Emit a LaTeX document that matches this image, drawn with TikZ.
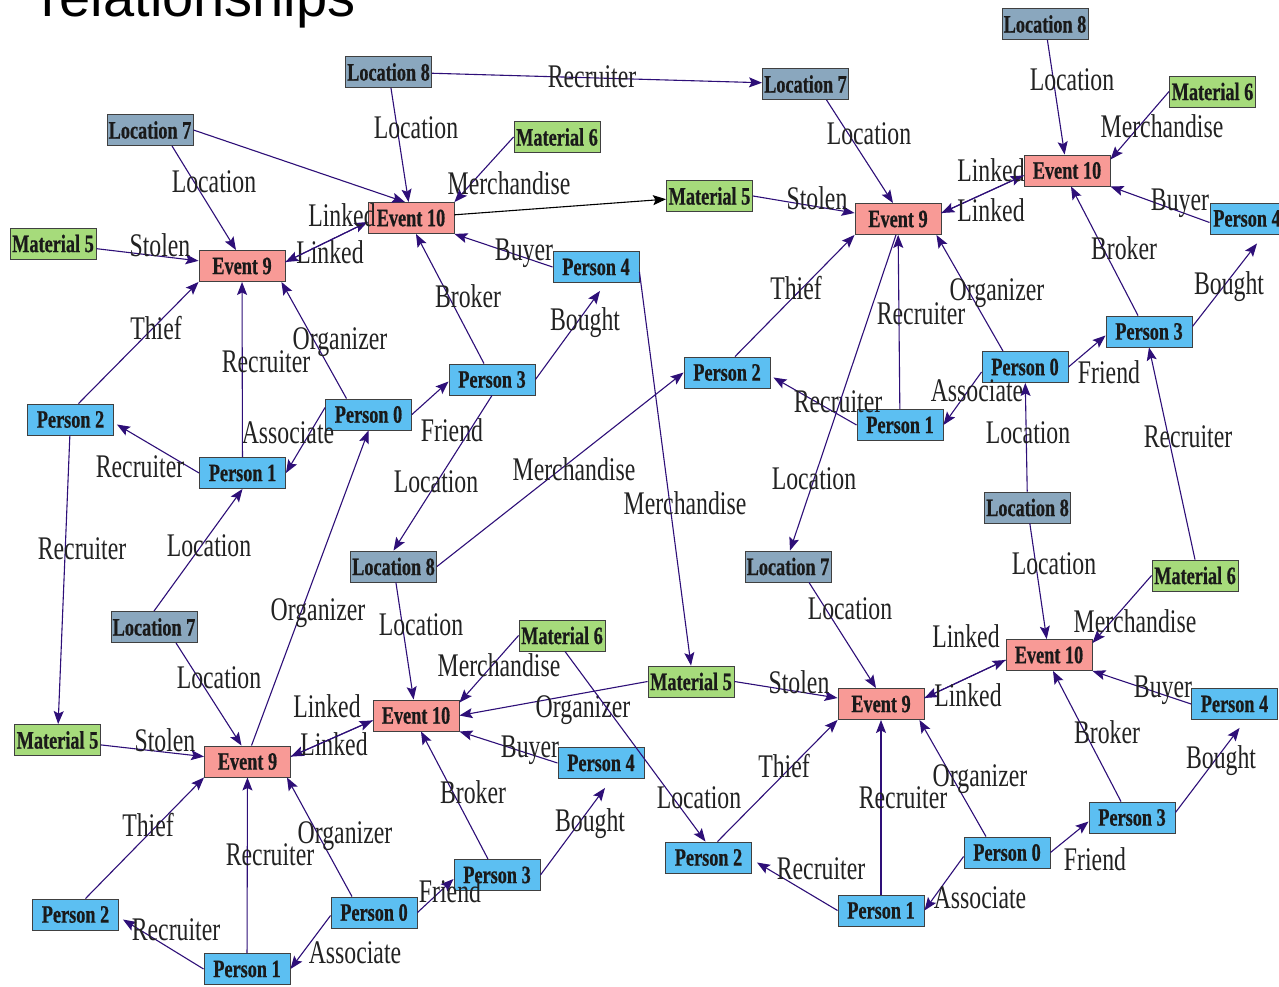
\documentclass[tikz,border=0pt]{standalone}
\usepackage{fontspec}
\usetikzlibrary{arrows.meta,calc}
\newfontfamily\nodefont{Liberation Serif}[FakeStretch=0.73,FakeBold=0.6]
\newfontfamily\lblfont{Liberation Serif}[FakeStretch=0.72]
\newfontfamily\titlefont{Liberation Sans}
\definecolor{evfill}{HTML}{F89A96}
\definecolor{locfill}{HTML}{8AA7BE}
\definecolor{matfill}{HTML}{A6DB7B}
\definecolor{perfill}{HTML}{5CBFF2}
\definecolor{boxline}{HTML}{404040}
\definecolor{edgecol}{HTML}{2E0F78}
\definecolor{inktext}{HTML}{222222}
\definecolor{boxtext}{HTML}{1A1A1A}
\tikzset{
  box/.style={draw=boxline, line width=0.9pt, minimum width=86pt, minimum height=31pt,
    inner sep=0pt, text=boxtext, font=\nodefont\bfseries\fontsize{25}{25}\selectfont},
  event/.style={box, fill=evfill},
  place/.style={box, fill=locfill},
  material/.style={box, fill=matfill},
  person/.style={box, fill=perfill},
  rel/.style={draw=edgecol, line width=1.1pt,
    -{Stealth[length=13pt,width=10pt,inset=2.5pt]}},
  relblack/.style={rel, draw=black},
  lbl/.style={inner sep=0pt, text height=22pt, text depth=0pt, text=inktext,
    font=\lblfont\fontsize{33}{33}\selectfont},
}
\begin{document}
\begin{tikzpicture}[x=1pt,y=-1pt]
\fill[white] (0,0) rectangle (1279,987);
\useasboundingbox (0,0) rectangle (1279,987);

\node[anchor=base west, inner sep=0pt, font=\titlefont\fontsize{56}{56}\selectfont] (title) at (41,17) {relationships};

% ---- nodes ----
\node[place]    (loc8a)  at (388.5,72)  {Location 8};
\node[place]    (loc7a)  at (150,130)   {Location 7};
\node[material] (mat5a)  at (53,243.5)  {Material 5};
\node[event]    (ev9a)   at (242,266)   {Event 9};
\node[event]    (ev10a)  at (411,218)   {Event 10};
\node[material] (mat6a)  at (557,137)   {Material 6};
\node[person]   (p4a)    at (596,267)   {Person 4};
\node[person]   (p3a)    at (492,379.5) {Person 3};
\node[person]   (p0a)    at (368.5,414.5) {Person 0};
\node[person]   (p2a)    at (70.5,419.5) {Person 2};
\node[person]   (p1a)    at (242.5,473) {Person 1};
\node[material] (mat5t)  at (709.5,196) {Material 5};
\node[place]    (loc7t)  at (805.5,84)  {Location 7};
\node[place]    (loc8t)  at (1045,24)   {Location 8};
\node[material] (mat6t)  at (1212.5,91.5) {Material 6};
\node[event]    (ev9t)   at (898,219)   {Event 9};
\node[event]    (ev10t)  at (1067,170.5) {Event 10};
\node[person, minimum width=74pt] (p4t) at (1247,218.5) {Person 4};
\node[person]   (p3t)    at (1149,331.5) {Person 3};
\node[person]   (p0t)    at (1025,367)  {Person 0};
\node[person]   (p1t)    at (900,425)   {Person 1};
\node[person]   (p2m)    at (727,372.5) {Person 2};
\node[place]    (loc7m)  at (788,566.5) {Location 7};
\node[place]    (loc8m)  at (393.5,566.5) {Location 8};
\node[place]    (loc8mr) at (1027.5,507.5) {Location 8};
\node[material] (mat6mr) at (1195,575.5) {Material 6};
\node[place]    (loc7bl) at (154,627)   {Location 7};
\node[material] (mat6bl) at (562,635.5) {Material 6};
\node[material] (mat5bm) at (691,681.5) {Material 5};
\node[material] (mat5bl) at (57.5,740)  {Material 5};
\node[event]    (ev9bl)  at (247.5,761.5) {Event 9};
\node[event]    (ev10bl) at (416,715.5) {Event 10};
\node[person]   (p4bl)   at (601,763)   {Person 4};
\node[person]   (p3bl)   at (497,875)   {Person 3};
\node[person]   (p0bl)   at (374,912.5) {Person 0};
\node[person]   (p2bl)   at (75.5,914.5) {Person 2};
\node[person]   (p1bl)   at (247,969)   {Person 1};
\node[event]    (ev9br)  at (881,704)   {Event 9};
\node[event]    (ev10br) at (1049,655)  {Event 10};
\node[person]   (p4br)   at (1234.5,704) {Person 4};
\node[person]   (p3br)   at (1132,817.5) {Person 3};
\node[person]   (p0br)   at (1007,852.5) {Person 0};
\node[person]   (p1br)   at (881,910.5) {Person 1};
\node[person]   (p2bm)   at (708.5,857.5) {Person 2};

% ---- upper left group ----
\draw[rel] (loc8a) -- (loc7t) node[lbl, at={(592,77)}] {Recruiter};
\draw[rel] (loc8a) -- (ev10a) node[lbl, at={(416,128)}] {Location};
\draw[rel] (loc7a.east) -- ($(ev10a.north)+(-6,0)$);
\draw[rel] ($(loc7a.south)+(22,0)$) -- ($(ev9a.north)+(-6,0)$) node[lbl, at={(214,182)}] {Location};
\draw[rel] (mat5a) -- (ev9a) node[lbl, at={(160,245)}] {Stolen};
\draw[rel] ($(ev10a.west)+(0,4)$) -- ($(ev9a.east)+(0,-4)$) node[lbl, at={(330,252)}] {Linked};
\draw[rel] ($(ev9a.east)+(0,-4)$) -- ($(ev10a.west)+(0,4)$) node[lbl, at={(342,215)}] {Linked};
\draw[rel] (mat6a.west) -- (ev10a.north east) node[lbl, at={(509,184)}] {Merchandise};
\draw[relblack] (ev10a) -- (mat5t);
\draw[rel] (p4a.west) -- (ev10a.south east) node[lbl, at={(524,249)}] {Buyer};
\draw[rel] ($(p3a.north)+(-8,0)$) -- ($(ev10a.south)+(5,0)$) node[lbl, at={(468,296)}] {Broker};
\draw[rel] (p3a.east) -- ($(p4a.south)+(4,8)$) node[lbl, at={(585,319)}] {Bought};
\draw[rel] ($(p0a.north)+(-22,0)$) -- ($(ev9a.south east)+(-4,0)$) node[lbl, at={(340,338)}] {Organizer};
\draw[rel] (p0a.east) -- ($(p3a.west)+(0,2)$) node[lbl, at={(452,430)}] {Friend};
\draw[rel] ($(p0a.west)+(0,-7)$) -- (p1a.east) node[lbl, at={(288,432)}] {Associate};
\draw[rel] (p1a) -- (ev9a) node[lbl, at={(266,361)}] {Recruiter};
\draw[rel] (p1a.west) -- ($(p2a.east)+(3,5)$) node[lbl, at={(140,466)}] {Recruiter};
\draw[rel] ($(p2a.north)+(8,0)$) -- (ev9a.south west) node[lbl, at={(156,328)}] {Thief};
\draw[rel] (p2a) -- (mat5bl) node[lbl, at={(82,548)}] {Recruiter};
\draw[rel] (loc7bl.north) -- (p1a.south) node[lbl, at={(209,545)}] {Location};
\draw[rel] (p3a.south) -- (loc8m.north) node[lbl, at={(436,481)}] {Location};
\draw[rel] (loc8m.east) -- (p2m.west) node[lbl, at={(574,469)}] {Merchandise};
\draw[rel] ($(p4a.east)+(0,5)$) -- (mat5bm.north) node[lbl, at={(685,503)}] {Merchandise};

% ---- upper right group ----
\draw[rel] ($(loc7t.south)+(21,0)$) -- ($(ev9t.north)+(-5,0)$) node[lbl, at={(869,134)}] {Location};
\draw[rel] (mat5t.east) -- ($(ev9t.west)+(0,-6)$) node[lbl, at={(817,198)}] {Stolen};
\draw[rel] ($(ev9t.east)+(0,-6)$) -- ($(ev10t.west)+(0,5)$) node[lbl, at={(991,171)}] {Linked};
\draw[rel] ($(ev10t.west)+(0,5)$) -- ($(ev9t.east)+(0,-6)$) node[lbl, at={(991,211)}] {Linked};
\draw[rel] (loc8t) -- (ev10t) node[lbl, at={(1072,80)}] {Location};
\draw[rel] (mat6t.west) -- ($(ev10t.north east)+(0,5)$) node[lbl, at={(1162,127)}] {Merchandise};
\draw[rel] ($(p4t.west)+(0,4)$) -- (ev10t.south east) node[lbl, at={(1180,200)}] {Buyer};
\draw[rel] ($(p3t.north)+(-11,0)$) -- ($(ev10t.south)+(4,0)$) node[lbl, at={(1124,248)}] {Broker};
\draw[rel] ($(p3t.east)+(0,-5)$) -- ($(p4t.south)+(10,9)$) node[lbl, at={(1229,283)}] {Bought};
\draw[rel] ($(p0t.north)+(-22,0)$) -- ($(ev9t.south east)+(-5,0)$) node[lbl, at={(997,289)}] {Organizer};
\draw[rel] (p0t.east) -- ($(p3t.west)+(0,4)$) node[lbl, at={(1109,372)}] {Friend};
\draw[rel] ($(p0t.west)+(0,5)$) -- (p1t.east) node[lbl, at={(977,390)}] {Associate};
\draw[rel] (p1t) -- (ev9t) node[lbl, at={(921,313)}] {Recruiter};
\draw[rel] (p1t.west) -- ($(p2m.east)+(3,5)$) node[lbl, at={(838,401)}] {Recruiter};
\draw[rel] ($(p2m.north)+(8,0)$) -- (ev9t.south west) node[lbl, at={(796,288)}] {Thief};
\draw[rel] ($(ev9t.south)+(-2,0)$) -- ($(loc7m.north)+(2,0)$) node[lbl, at={(814,478)}] {Location};
\draw[rel] (loc8mr) -- (p0t) node[lbl, at={(1028,432)}] {Location};
\draw[rel] (mat6mr.north) -- (p3t.south) node[lbl, at={(1188,436)}] {Recruiter};

% ---- lower left group ----
\draw[rel] (loc8m) -- (ev10bl) node[lbl, at={(421,624)}] {Location};
\draw[rel] ($(loc7bl.south)+(22,0)$) -- ($(ev9bl.north)+(-6,0)$) node[lbl, at={(219,677)}] {Location};
\draw[rel] (mat5bl) -- (ev9bl) node[lbl, at={(165,740)}] {Stolen};
\draw[rel] ($(ev10bl.west)+(0,5)$) -- ($(ev9bl.east)+(0,-5)$) node[lbl, at={(334,744)}] {Linked};
\draw[rel] ($(ev9bl.east)+(0,-5)$) -- ($(ev10bl.west)+(0,5)$) node[lbl, at={(327,706)}] {Linked};
\draw[rel] (mat6bl.west) -- ($(ev10bl.north east)+(0,3)$) node[lbl, at={(499,665)}] {Merchandise};
\draw[rel] (mat5bm.west) -- (ev10bl.east) node[lbl, at={(583,706)}] {Organizer};
\draw[rel] (p4bl.west) -- (ev10bl.south east) node[lbl, at={(530,746)}] {Buyer};
\draw[rel] ($(p3bl.north)+(-9,0)$) -- ($(ev10bl.south)+(5,0)$) node[lbl, at={(473,792)}] {Broker};
\draw[rel] (p3bl.east) -- ($(p4bl.south)+(4,9)$) node[lbl, at={(590,820)}] {Bought};
\draw[rel] ($(p0bl.north)+(-22,0)$) -- ($(ev9bl.south east)+(-4,0)$) node[lbl, at={(345,832)}] {Organizer};
\draw[rel] (p0bl.east) -- ($(p3bl.west)+(0,4)$) node[lbl, at={(450,891)}] {Friend};
\draw[rel] ($(p0bl.west)+(0,3)$) -- (p1bl.east) node[lbl, at={(355,952)}] {Associate};
\draw[rel] (p1bl) -- (ev9bl) node[lbl, at={(270,854)}] {Recruiter};
\draw[rel] (p1bl.west) -- ($(p2bl.east)+(4,5)$) node[lbl, at={(176,929)}] {Recruiter};
\draw[rel] ($(p2bl.north)+(10,0)$) -- (ev9bl.south west) node[lbl, at={(148,825)}] {Thief};
\draw[rel] ($(ev9bl.north)+(4,0)$) -- (p0a.south) node[lbl, at={(318,609)}] {Organizer};

% ---- lower right group ----
\draw[rel] ($(loc7m.south)+(21,0)$) -- ($(ev9br.north)+(-5,0)$) node[lbl, at={(850,608)}] {Location};
\draw[rel] (mat5bm.east) -- ($(ev9br.west)+(0,-6)$) node[lbl, at={(799,682)}] {Stolen};
\draw[rel] ($(ev9br.east)+(0,-6)$) -- ($(ev10br.west)+(0,5)$) node[lbl, at={(966,636)}] {Linked};
\draw[rel] ($(ev10br.west)+(0,5)$) -- ($(ev9br.east)+(0,-6)$) node[lbl, at={(968,695)}] {Linked};
\draw[rel] (loc8mr) -- (ev10br) node[lbl, at={(1054,563)}] {Location};
\draw[rel] (mat6mr.west) -- ($(ev10br.north east)+(0,4)$) node[lbl, at={(1135,621)}] {Merchandise};
\draw[rel] (p4br.west) -- (ev10br.south east) node[lbl, at={(1163,686)}] {Buyer};
\draw[rel] ($(p3br.north)+(-11,0)$) -- ($(ev10br.south)+(4,0)$) node[lbl, at={(1107,732)}] {Broker};
\draw[rel] ($(p3br.east)+(0,-5)$) -- ($(p4br.south)+(5,8)$) node[lbl, at={(1221,757)}] {Bought};
\draw[rel] ($(p0br.north)+(-21,0)$) -- ($(ev9br.south east)+(-5,0)$) node[lbl, at={(980,775)}] {Organizer};
\draw[rel] (p0br.east) -- ($(p3br.west)+(0,4)$) node[lbl, at={(1095,859)}] {Friend};
\draw[rel] ($(p0br.west)+(0,4)$) -- (p1br.east) node[lbl, at={(980,897)}] {Associate};
\draw[rel] (p1br) -- (ev9br) node[lbl, at={(903,797)}] {Recruiter};
\draw[rel] (p1br.west) -- ($(p2bm.east)+(5,5)$) node[lbl, at={(821,868)}] {Recruiter};
\draw[rel] ($(p2bm.north)+(9,0)$) -- (ev9br.south west) node[lbl, at={(784,766)}] {Thief};
\draw[rel] ($(mat6bl.south)+(3,0)$) -- ($(p2bm.north)+(-3,0)$) node[lbl, at={(699,797)}] {Location};
\end{tikzpicture}
\end{document}
